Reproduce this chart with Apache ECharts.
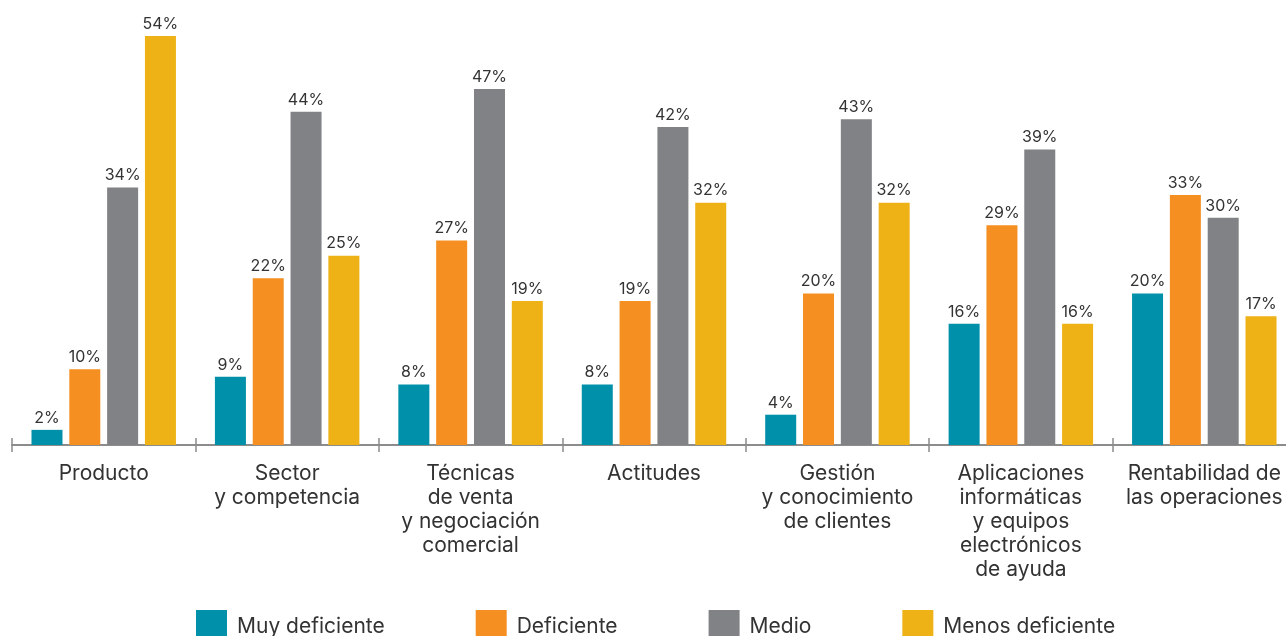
<!DOCTYPE html>
<html><head><meta charset="utf-8">
<script src="https://cdn.jsdelivr.net/npm/echarts@6/dist/echarts.min.js"></script>
<style>html,body{margin:0;padding:0;background:#fff;overflow:hidden}#c{width:1300px;height:636px}</style>
</head><body><div id="c"></div>
<script>
const categories = ['Producto','Sector\ny competencia','Técnicas\nde venta\ny negociación\ncomercial','Actitudes','Gestión\ny conocimiento\nde clientes','Aplicaciones\ninformáticas\ny equipos\nelectrónicos\nde ayuda','Rentabilidad de\nlas operaciones'];
const seriesNames = ['Muy deficiente','Deficiente','Medio','Menos deficiente'];
const muyDeficiente = [2,9,8,8,4,16,20];
const deficiente = [10,22,27,19,20,29,33];
const medio = [34,44,47,42,43,39,30];
const menosDeficiente = [54,25,19,32,32,16,17];
const colors = ['#0090a9','#f58f21','#808285','#efb216'];
const FONT = 'Inter';
const values = [muyDeficiente, deficiente, medio, menosDeficiente];
const chart = echarts.init(document.getElementById('c'));
chart.setOption({
  animation:false,
  textStyle:{fontFamily:FONT},
  grid:{left:12, top:36, width:1284, bottom:191},
  legend:{
    left:196, top:610, itemWidth:31, itemHeight:34, itemGap:91, icon:'rect', padding:0,
    textStyle:{fontSize:21, color:'#333', fontFamily:FONT, padding:[0,0,0,5]},
    data:seriesNames
  },
  xAxis:[{
    type:'category', data:categories,
    axisLine:{show:true, lineStyle:{color:'#8c8c8c', width:2}},
    axisTick:{show:true, length:7, interval:0, lineStyle:{color:'#8c8c8c', width:1.5}},
    axisLabel:{fontSize:21, color:'#333', lineHeight:24, margin:17, fontFamily:FONT, interval:0}
  },{
    type:'category', data:categories, position:'bottom',
    axisLine:{show:false},
    axisTick:{show:true, inside:true, interval:0, length:7, lineStyle:{color:'#8c8c8c', width:1.5}},
    axisLabel:{show:false}
  }],
  yAxis:{type:'value', min:0, max:54, show:false, splitLine:{show:false}},
  series: values.map((v,i)=>({
    name:seriesNames[i], type:'bar', data:v, barWidth:31, barGap:'22%',
    itemStyle:{color:colors[i]},
    label:{show:true, position:'top', distance:4, formatter:'{c}%', fontSize:16, color:'#333', fontFamily:FONT}
  }))
});
</script></body></html>
